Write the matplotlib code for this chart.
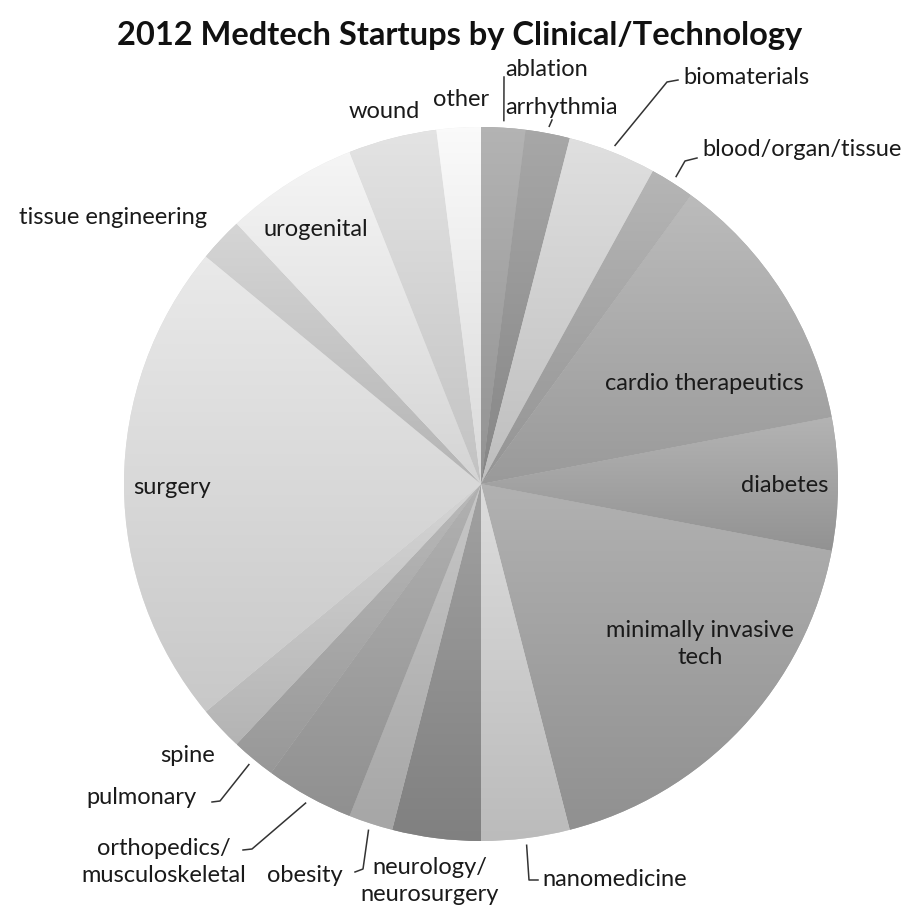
import numpy as np
import matplotlib
matplotlib.use('Agg')
import matplotlib.pyplot as plt
from matplotlib.colors import LinearSegmentedColormap, to_rgb

# startups per clinical/technology area, clockwise from 12 o'clock
categories = ['ablation', 'arrhythmia', 'biomaterials', 'blood/organ/tissue',
              'cardio therapeutics', 'diabetes', 'minimally invasive\ntech',
              'nanomedicine', 'neurology/\nneurosurgery', 'obesity',
              'orthopedics/\nmusculoskeletal', 'pulmonary', 'spine', 'surgery',
              'tissue engineering', 'urogenital', 'wound', 'other']
counts = [1, 1, 2, 1, 6, 3, 9, 2, 2, 1, 2, 1, 1, 11, 1, 3, 2, 1]
shades = ['#a4a4a4', '#989898', '#d0d0d0', '#a6a6a6', '#acacac', '#a4a4a4',
          '#a2a2a2', '#cdcdcd', '#929292', '#b8b8b8', '#a2a2a2', '#aaaaaa',
          '#c6c6c6', '#dadada', '#c6c6c6', '#e6e6e6', '#d4d4d4', '#ebebeb']

W, H = 916, 910
CX, CY, R = 481, 484, 357   # pie centre / radius in picture pixels (y down)


def px(x, y):
    """picture pixel (y down) -> axes coords (y up)"""
    return x, H - y


# label layout: (x, y, ha) in picture pixels
label_pos = {
    'ablation': (505, 70, 'left'),
    'arrhythmia': (505, 108, 'left'),
    'biomaterials': (683, 77, 'left'),
    'blood/organ/tissue': (702, 150, 'left'),
    'cardio therapeutics': (704, 383, 'center'),
    'diabetes': (785, 486, 'center'),
    'minimally invasive\ntech': (700, 644, 'center'),
    'nanomedicine': (542, 880, 'left'),
    'neurology/\nneurosurgery': (430, 881, 'center'),
    'obesity': (343, 875, 'right'),
    'orthopedics/\nmusculoskeletal': (164, 862, 'center'),
    'pulmonary': (197, 798, 'right'),
    'spine': (215, 755, 'right'),
    'surgery': (172, 487, 'center'),
    'tissue engineering': (113, 218, 'center'),
    'urogenital': (316, 230, 'center'),
    'wound': (384, 112, 'center'),
    'other': (461, 100, 'center'),
}

# leader line elbows (after the rim point)
leaders = {
    'ablation': [(504, 77)],
    'arrhythmia': [(552, 120)],
    'biomaterials': [(667, 82), (678, 80)],
    'blood/organ/tissue': [(685, 161), (697, 158)],
    'nanomedicine': [(529, 880), (538, 880)],
    'obesity': [(363, 869), (355, 872)],
    'orthopedics/\nmusculoskeletal': [(252, 849), (243, 850)],
    'pulmonary': [(220, 801), (212, 802)],
}

plt.rcParams['font.family'] = ['Lato', 'DejaVu Sans']

fig = plt.figure(figsize=(W / 100, H / 100), dpi=100)
ax = fig.add_axes([0, 0, 1, 1])

wedges, _ = ax.pie(counts, colors=shades, startangle=90, counterclock=False,
                   center=px(CX, CY), radius=R,
                   wedgeprops=dict(linewidth=0, antialiased=True))

# soft vertical gradient inside every slice
for w, base in zip(wedges, shades):
    v = w.get_path().vertices
    x0, x1 = v[:, 0].min(), v[:, 0].max()
    y0, y1 = v[:, 1].min(), v[:, 1].max()
    c = np.array(to_rgb(base))
    light = np.clip(c + 0.06, 0, 1)
    dark = np.clip(c - 0.07, 0, 1)
    cmap = LinearSegmentedColormap.from_list('g', [dark, light])
    im = ax.imshow(np.linspace(0, 1, 128).reshape(-1, 1), cmap=cmap,
                   extent=(x0, x1, y0, y1), origin='lower', aspect='auto',
                   interpolation='bilinear', zorder=2)
    im.set_clip_path(w)

# labels and leader lines
for w, name in zip(wedges, categories):
    x, y, ha = label_pos[name]
    ax.text(*px(x, y), name, ha=ha, va='center', fontsize=17,
            color='#1a1a1a', linespacing=1.3, zorder=5)
    if name in leaders:
        mid = np.deg2rad((w.theta1 + w.theta2) / 2)
        sx = CX + R * 1.02 * np.cos(mid)
        sy = CY - R * 1.02 * np.sin(mid)
        pts = [(sx, sy)] + leaders[name]
        ax.plot([p[0] for p in pts], [H - p[1] for p in pts],
                color='#333333', lw=1.1, zorder=4)

ax.text(*px(460, 35), '2012 Medtech Startups by Clinical/Technology',
        ha='center', va='center', fontsize=23.5, fontweight='bold',
        color='#111111')

ax.set_xlim(0, W)
ax.set_ylim(0, H)
ax.set_aspect('auto')
ax.axis('off')

fig.savefig('out.png', dpi=100)
